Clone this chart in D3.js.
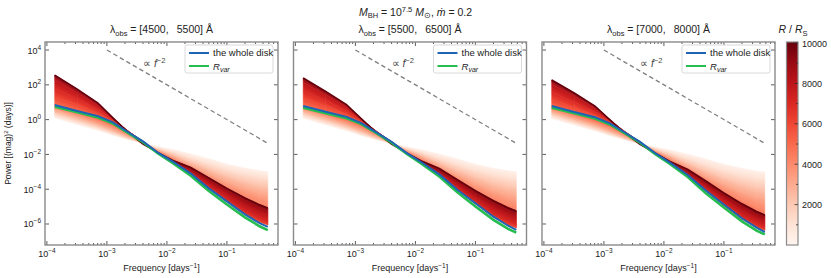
<!DOCTYPE html>
<html>
<head>
<meta charset="utf-8">
<script src="https://cdn.jsdelivr.net/npm/d3@7"></script>
<style>
  body { margin: 0; background: #fff; }
  text { font-family: "Liberation Sans", Arial, Helvetica, sans-serif; fill: #222; }
</style>
</head>
<body>
<svg id="fig" width="831" height="278"></svg>
<script>
// ---- data ----
const freq = [1.35e-4, 3.2e-4, 7.1e-4, 1.26e-3, 2.24e-3, 4.0e-3, 7.1e-3, 1.26e-2, 2.5e-2, 5.0e-2, 0.1, 0.2, 0.35, 0.48];
const radii = [300, 1000, 2000, 3000, 4000, 5000, 6000, 7000, 8000, 9000, 10000];   // R / R_S of each curve
const bandTitles = ["[4500,\u2002 5500]", "[5500,\u2002 6500]", "[7000,\u2002 8000]"];

// log10 power for each radius curve (rows follow `radii`)
const fanLogP1 = [
  [0.10, -0.28, -0.62, -0.90, -1.15, -1.35, -1.55, -1.72, -1.97, -2.25, -2.55, -2.78, -2.93, -3.00],
  [0.22, -0.17, -0.53, -0.83, -1.12, -1.36, -1.62, -1.85, -2.17, -2.50, -2.82, -3.08, -3.25, -3.32],
  [0.38, -0.02, -0.40, -0.72, -1.05, -1.36, -1.70, -2.00, -2.40, -2.80, -3.18, -3.50, -3.70, -3.78],
  [0.55, 0.15, -0.25, -0.58, -0.95, -1.33, -1.76, -2.13, -2.62, -3.10, -3.55, -3.95, -4.20, -4.30],
  [0.72, 0.32, -0.08, -0.42, -0.85, -1.30, -1.82, -2.25, -2.82, -3.40, -3.92, -4.40, -4.75, -4.90],
  [0.90, 0.50, 0.10, -0.26, -0.75, -1.27, -1.88, -2.37, -3.00, -3.68, -4.30, -4.88, -5.30, -5.50],
  [1.30, 0.85, 0.35, -0.12, -0.66, -1.25, -1.93, -2.47, -3.16, -3.95, -4.72, -5.45, -5.88, -6.05],
  [1.80, 1.20, 0.60, 0.00, -0.64, -1.27, -1.94, -2.46, -3.12, -3.88, -4.60, -5.28, -5.68, -5.85],
  [2.30, 1.55, 0.82, 0.06, -0.66, -1.31, -1.93, -2.42, -3.00, -3.65, -4.30, -4.92, -5.32, -5.50],
  [2.45, 1.67, 0.90, 0.08, -0.69, -1.36, -1.91, -2.38, -2.85, -3.45, -4.05, -4.62, -5.02, -5.20],
  [2.56, 1.75, 0.95, 0.10, -0.72, -1.40, -1.90, -2.35, -2.75, -3.35, -3.95, -4.50, -4.90, -5.08]
];
const diskLogP1 = [0.84, 0.50, 0.20, -0.16, -0.71, -1.25, -1.90, -2.42, -3.10, -3.95, -4.70, -5.45, -5.95, -6.17];
const rvarLogP1 = [0.74, 0.42, 0.12, -0.22, -0.76, -1.30, -1.95, -2.50, -3.22, -4.10, -4.88, -5.62, -6.13, -6.35];

const fanLogP2 = [
  [0.08, -0.30, -0.64, -0.92, -1.16, -1.36, -1.56, -1.73, -1.98, -2.26, -2.56, -2.79, -2.94, -3.00],
  [0.20, -0.19, -0.55, -0.85, -1.13, -1.37, -1.63, -1.87, -2.19, -2.53, -2.86, -3.12, -3.30, -3.37],
  [0.35, -0.05, -0.43, -0.74, -1.06, -1.37, -1.71, -2.02, -2.43, -2.85, -3.24, -3.57, -3.78, -3.86],
  [0.51, 0.11, -0.28, -0.60, -0.96, -1.34, -1.77, -2.15, -2.66, -3.16, -3.63, -4.05, -4.31, -4.42],
  [0.67, 0.27, -0.12, -0.45, -0.87, -1.31, -1.83, -2.28, -2.87, -3.47, -4.02, -4.52, -4.88, -5.04],
  [0.84, 0.44, 0.05, -0.30, -0.77, -1.28, -1.89, -2.40, -3.05, -3.76, -4.40, -5.01, -5.45, -5.66],
  [1.22, 0.78, 0.30, -0.16, -0.69, -1.26, -1.94, -2.50, -3.22, -4.04, -4.84, -5.60, -6.05, -6.22],
  [1.68, 1.10, 0.52, -0.04, -0.66, -1.28, -1.95, -2.49, -3.18, -3.98, -4.74, -5.44, -5.85, -6.02],
  [2.14, 1.43, 0.74, 0.02, -0.69, -1.32, -1.94, -2.45, -3.06, -3.76, -4.45, -5.09, -5.49, -5.67],
  [2.28, 1.54, 0.81, 0.03, -0.72, -1.37, -1.92, -2.41, -2.91, -3.55, -4.19, -4.78, -5.19, -5.37],
  [2.39, 1.62, 0.86, 0.04, -0.75, -1.41, -1.91, -2.38, -2.81, -3.45, -4.09, -4.66, -5.07, -5.25]
];
const diskLogP2 = [0.78, 0.45, 0.16, -0.20, -0.73, -1.27, -1.91, -2.45, -3.15, -4.03, -4.81, -5.58, -6.10, -6.34];
const rvarLogP2 = [0.69, 0.37, 0.08, -0.26, -0.78, -1.32, -1.96, -2.53, -3.27, -4.18, -4.99, -5.76, -6.28, -6.50];

const fanLogP3 = [
  [0.06, -0.31, -0.65, -0.93, -1.17, -1.37, -1.57, -1.74, -1.99, -2.27, -2.57, -2.80, -2.95, -3.01],
  [0.18, -0.21, -0.57, -0.86, -1.14, -1.38, -1.64, -1.88, -2.21, -2.56, -2.89, -3.16, -3.34, -3.41],
  [0.32, -0.08, -0.46, -0.76, -1.08, -1.38, -1.72, -2.04, -2.46, -2.89, -3.30, -3.64, -3.86, -3.94],
  [0.47, 0.07, -0.31, -0.63, -0.98, -1.35, -1.78, -2.17, -2.69, -3.21, -3.70, -4.14, -4.41, -4.52],
  [0.62, 0.22, -0.16, -0.48, -0.89, -1.32, -1.84, -2.30, -2.90, -3.52, -4.10, -4.62, -5.00, -5.16],
  [0.78, 0.38, 0.00, -0.34, -0.79, -1.29, -1.90, -2.42, -3.09, -3.82, -4.49, -5.12, -5.58, -5.80],
  [1.14, 0.70, 0.24, -0.20, -0.71, -1.27, -1.95, -2.52, -3.26, -4.10, -4.93, -5.72, -6.18, -6.36],
  [1.58, 1.02, 0.44, -0.08, -0.68, -1.29, -1.96, -2.51, -3.22, -4.05, -4.84, -5.58, -6.02, -6.20],
  [2.03, 1.34, 0.65, -0.02, -0.71, -1.33, -1.95, -2.47, -3.11, -3.84, -4.56, -5.24, -5.67, -5.86],
  [2.17, 1.45, 0.73, -0.01, -0.74, -1.38, -1.93, -2.43, -2.96, -3.63, -4.32, -4.96, -5.40, -5.60],
  [2.28, 1.53, 0.78, -0.01, -0.77, -1.42, -1.92, -2.40, -2.86, -3.53, -4.22, -4.84, -5.28, -5.48]
];
const diskLogP3 = [0.78, 0.44, 0.14, -0.22, -0.74, -1.28, -1.92, -2.47, -3.18, -4.08, -4.88, -5.67, -6.21, -6.46];
const rvarLogP3 = [0.68, 0.36, 0.06, -0.28, -0.79, -1.33, -1.97, -2.55, -3.30, -4.23, -5.05, -5.85, -6.38, -6.60];

// reference slope line (proportional to f^-2)
const slopeFreq = [1e-3, 0.5];
const slopePower = [1e4, 4e-2];

const xMajor = [1e-4, 1e-3, 1e-2, 1e-1];
const yMajor = [1e-6, 1e-4, 1e-2, 1, 1e2, 1e4];
const cbarTicks = [2000, 4000, 6000, 8000, 10000];

// ---- layout ----
const svg = d3.select("#fig");
const defs = svg.append("defs");
const panelLeft = [45, 293.5, 542];
const panelW = 233, plotTop = 42, plotBottom = 245;
const spineColor = "#8a8a8a", tickColor = "#333";
const blue = "#1f63b4", green = "#25bd4f";

const color = d3.scaleSequential(d3.interpolateReds).domain([0, 10000]);
let gradCount = 0;

function powLabel(sel, e, size) {
  sel.append("tspan").text("10");
  sel.append("tspan").attr("dy", -4).attr("font-size", size * 0.72)
    .text(e < 0 ? "\u2212" + (-e) : String(e));
}

// one strip of the fan between two neighbouring radius curves, shaded across its width
function drawBand(plot, x, y, lo, hi, cLo, cHi) {
  for (let i = 0; i < freq.length - 1; i++) {
    const xa = x(freq[i]), xb = x(freq[i + 1]);
    const la = y(lo[i]), lb = y(lo[i + 1]), ha = y(hi[i]), hb = y(hi[i + 1]);
    const xm = (xa + xb) / 2, lm = (la + lb) / 2, hm = (ha + hb) / 2;
    const s = ((lb - la) + (hb - ha)) / 2 / (xb - xa);
    const dy = hm - lm;
    let paint;
    if (Math.abs(dy) < 0.05) {
      paint = d3.interpolateRgb(cLo, cHi)(0.5);
    } else {
      const id = "bg" + (gradCount++);
      const gr = defs.append("linearGradient").attr("id", id)
        .attr("gradientUnits", "userSpaceOnUse")
        .attr("x1", xm).attr("y1", lm)
        .attr("x2", xm - s * dy / (1 + s * s)).attr("y2", lm + dy / (1 + s * s));
      gr.append("stop").attr("offset", 0).attr("stop-color", cLo);
      gr.append("stop").attr("offset", 1).attr("stop-color", cHi);
      paint = `url(#${id})`;
    }
    plot.append("path")
      .attr("d", `M${xa},${la}L${xb},${lb}L${xb},${hb}L${xa},${ha}Z`)
      .attr("fill", paint).attr("stroke", paint).attr("stroke-width", 0.6);
  }
}

const panels = [
  { fan: fanLogP1, disk: diskLogP1, rvar: rvarLogP1 },
  { fan: fanLogP2, disk: diskLogP2, rvar: rvarLogP2 },
  { fan: fanLogP3, disk: diskLogP3, rvar: rvarLogP3 }
];

panels.forEach((p, pi) => {
  const x0 = panelLeft[pi];
  const x = d3.scaleLog().domain([9.3e-5, 0.71]).range([x0, x0 + panelW]);
  const y = d3.scaleLog().domain([6.2e-8, 2.9e4]).range([plotBottom, plotTop]);
  const g = svg.append("g");

  const clipId = "clip" + pi;
  defs.append("clipPath").attr("id", clipId)
    .append("rect").attr("x", x0).attr("y", plotTop).attr("width", panelW).attr("height", plotBottom - plotTop);
  const plot = g.append("g").attr("clip-path", `url(#${clipId})`);

  // fan of radius curves, painted in order of increasing R
  const pw = p.fan.map(row => row.map(v => Math.pow(10, v)));
  for (let k = 1; k < pw.length; k++) {
    drawBand(plot, x, y, pw[k - 1], pw[k], color(radii[k - 1]), color(radii[k]));
  }
  const line = d3.line().x(d => x(d[0])).y(d => y(d[1]));
  // outermost radius as a dark edge
  plot.append("path").datum(pw[pw.length - 1].map((v, i) => [freq[i], v]))
    .attr("d", line)
    .attr("fill", "none")
    .attr("stroke", color(radii[radii.length - 1]))
    .attr("stroke-width", 1.6);

  // R_var and whole disk
  const rv = p.rvar.map((v, i) => [freq[i], Math.pow(10, v)]);
  const dk = p.disk.map((v, i) => [freq[i], Math.pow(10, v)]);
  plot.append("path").datum(rv).attr("d", line).attr("fill", "none")
    .attr("stroke", green).attr("stroke-width", 2.6);
  plot.append("path").datum(dk).attr("d", line).attr("fill", "none")
    .attr("stroke", blue).attr("stroke-width", 2);

  // f^-2 guide
  plot.append("path").datum(slopeFreq.map((f, i) => [f, slopePower[i]]))
    .attr("d", line).attr("fill", "none")
    .attr("stroke", "#808080").attr("stroke-width", 1.3)
    .attr("stroke-dasharray", "4.5,3");
  const prop = g.append("text").attr("x", x(4e-3)).attr("y", y(1e3))
    .attr("font-size", 10.5).style("fill", "#444");
  prop.append("tspan").text("\u221d ");
  prop.append("tspan").attr("font-style", "italic").text("f");
  prop.append("tspan").attr("dy", -4).attr("font-size", 7.5).text("\u22122");

  // ticks (inward, all four sides)
  const minorX = x.ticks().filter(t => !xMajor.some(m => Math.abs(m - t) / m < 1e-6));
  const tk = g.append("g").attr("stroke", tickColor).attr("stroke-width", 0.8);
  xMajor.forEach(t => {
    tk.append("line").attr("x1", x(t)).attr("x2", x(t)).attr("y1", plotBottom).attr("y2", plotBottom - 4);
    tk.append("line").attr("x1", x(t)).attr("x2", x(t)).attr("y1", plotTop).attr("y2", plotTop + 4);
  });
  minorX.forEach(t => {
    tk.append("line").attr("x1", x(t)).attr("x2", x(t)).attr("y1", plotBottom).attr("y2", plotBottom - 2);
    tk.append("line").attr("x1", x(t)).attr("x2", x(t)).attr("y1", plotTop).attr("y2", plotTop + 2);
  });
  yMajor.forEach(t => {
    tk.append("line").attr("x1", x0).attr("x2", x0 + 4).attr("y1", y(t)).attr("y2", y(t));
    tk.append("line").attr("x1", x0 + panelW).attr("x2", x0 + panelW - 4).attr("y1", y(t)).attr("y2", y(t));
  });

  // spines
  g.append("rect").attr("x", x0).attr("y", plotTop).attr("width", panelW).attr("height", plotBottom - plotTop)
    .attr("fill", "none").attr("stroke", spineColor).attr("stroke-width", 1.4);

  // x tick labels
  xMajor.forEach(t => {
    const e = Math.round(Math.log10(t));
    g.append("text").attr("x", x(t)).attr("y", 257).attr("text-anchor", "middle")
      .attr("font-size", 9).call(powLabel, e, 9);
  });
  if (pi === 0) {
    yMajor.forEach(t => {
      const e = Math.round(Math.log10(t));
      g.append("text").attr("x", x0 - 4).attr("y", y(t) + 3.5).attr("text-anchor", "end")
        .attr("font-size", 9).call(powLabel, e, 9);
    });
    const yl = g.append("text").attr("transform", `translate(11,${(plotTop + plotBottom) / 2}) rotate(-90)`)
      .attr("text-anchor", "middle").attr("font-size", 8.5);
    yl.append("tspan").text("Power [(mag)");
    yl.append("tspan").attr("dy", -3.5).attr("font-size", 6).text("2");
    yl.append("tspan").attr("dy", 3.5).text(" (days)]");
  }

  // x label
  const xl = g.append("text").attr("x", x0 + panelW / 2).attr("y", 271)
    .attr("text-anchor", "middle").attr("font-size", 9);
  xl.append("tspan").text("Frequency [days");
  xl.append("tspan").attr("dy", -3.5).attr("font-size", 6.5).text("\u22121");
  xl.append("tspan").attr("dy", 3.5).text("]");

  // panel title
  const tt = g.append("text").attr("x", x0 + panelW / 2).attr("y", 33)
    .attr("text-anchor", "middle").attr("font-size", 10.5);
  tt.append("tspan").text("\u03bb");
  tt.append("tspan").attr("dy", 2.5).attr("font-size", 7.5).text("obs");
  tt.append("tspan").attr("dy", -2.5).text(" = " + bandTitles[pi] + " \u00c5");

  // legend
  const lx = x0 + panelW - 93, ly = plotTop + 3;
  const lg = g.append("g");
  lg.append("rect").attr("x", lx).attr("y", ly).attr("width", 88).attr("height", 28)
    .attr("rx", 2).attr("fill", "#fff").attr("fill-opacity", 0.9)
    .attr("stroke", "#d0d0d0").attr("stroke-width", 0.8);
  lg.append("line").attr("x1", lx + 4).attr("x2", lx + 24).attr("y1", ly + 8).attr("y2", ly + 8)
    .attr("stroke", blue).attr("stroke-width", 2);
  lg.append("text").attr("x", lx + 28).attr("y", ly + 11).attr("font-size", 9.5).text("the whole disk");
  lg.append("line").attr("x1", lx + 4).attr("x2", lx + 24).attr("y1", ly + 21).attr("y2", ly + 21)
    .attr("stroke", green).attr("stroke-width", 2);
  const lt = lg.append("text").attr("x", lx + 28).attr("y", ly + 24.5).attr("font-size", 9.5);
  lt.append("tspan").attr("font-style", "italic").text("R");
  lt.append("tspan").attr("dy", 2.5).attr("font-size", 7).attr("font-style", "italic").text("var");
});

// suptitle
const st = svg.append("text").attr("x", 415.5).attr("y", 15.5).attr("text-anchor", "middle").attr("font-size", 10.5);
st.append("tspan").attr("font-style", "italic").text("M");
st.append("tspan").attr("dy", 2.5).attr("font-size", 7.5).text("BH");
st.append("tspan").attr("dy", -2.5).text(" = 10");
st.append("tspan").attr("dy", -4).attr("font-size", 7.5).text("7.5");
st.append("tspan").attr("dy", 4).text(" ");
st.append("tspan").attr("font-style", "italic").text("M");
st.append("tspan").attr("dy", 2.5).attr("font-size", 7.5).text("\u2299");
st.append("tspan").attr("dy", -2.5).text(",  ");
st.append("tspan").attr("font-style", "italic").text("\u1e41");
st.append("tspan").text(" = 0.2");

// colorbar
const cbX = 786.5, cbW = 11.5;
const cy = d3.scaleLinear().domain([0, 10000]).range([plotBottom, plotTop + 1]);
const grad = defs.append("linearGradient").attr("id", "reds")
  .attr("x1", 0).attr("x2", 0).attr("y1", 1).attr("y2", 0);
d3.range(0, 1.0001, 0.1).forEach(t => {
  grad.append("stop").attr("offset", t).attr("stop-color", d3.interpolateReds(t));
});
svg.append("rect").attr("x", cbX).attr("y", plotTop).attr("width", cbW).attr("height", plotBottom - plotTop)
  .attr("fill", "url(#reds)").attr("stroke", spineColor).attr("stroke-width", 1.2);
const cbt = svg.append("g").attr("stroke", tickColor).attr("stroke-width", 0.8);
cbarTicks.forEach(v => {
  cbt.append("line").attr("x1", cbX + cbW).attr("x2", cbX + cbW - 3.5).attr("y1", cy(v)).attr("y2", cy(v));
  svg.append("text").attr("x", cbX + cbW + 4).attr("y", cy(v) + 3.5).attr("font-size", 9).text(v);
});
cbarTicks.forEach(v => {
  cbt.append("line").attr("x1", cbX + cbW).attr("x2", cbX + cbW - 2).attr("y1", cy(v - 1000)).attr("y2", cy(v - 1000));
});
const cl = svg.append("text").attr("x", 793).attr("y", 33).attr("text-anchor", "middle").attr("font-size", 10.5);
cl.append("tspan").attr("font-style", "italic").text("R");
cl.append("tspan").text(" / ");
cl.append("tspan").attr("font-style", "italic").text("R");
cl.append("tspan").attr("dy", 2.5).attr("font-size", 7.5).text("S");
</script>
</body>
</html>
